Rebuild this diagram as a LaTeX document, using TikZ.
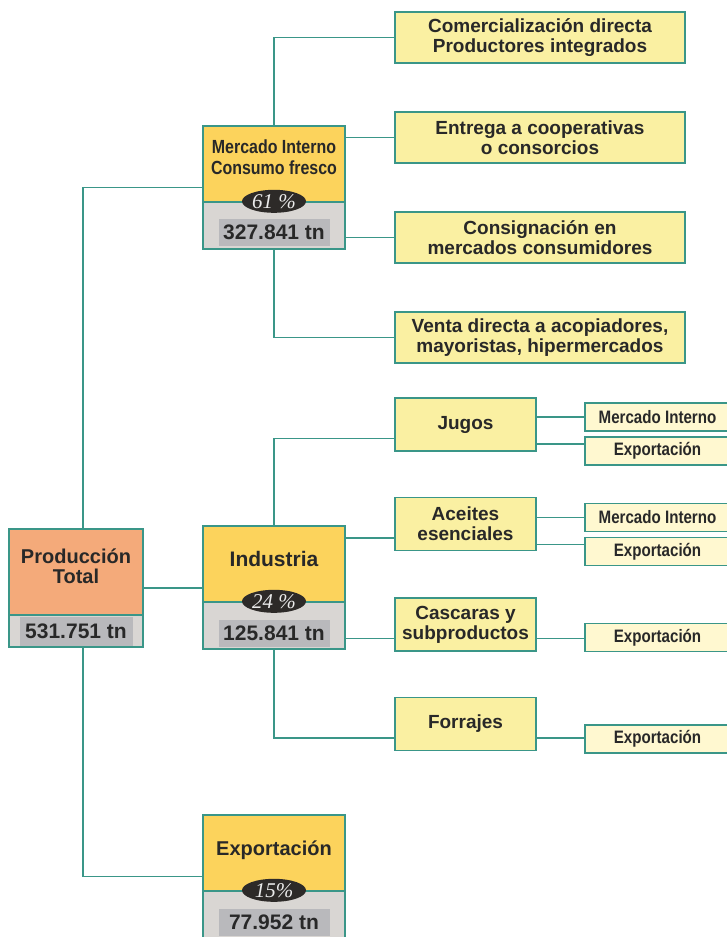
\documentclass[tikz,border=0pt]{standalone}
\usepackage{fontspec}
\setmainfont{Liberation Sans}
\newfontfamily\narrowfont{Liberation Sans}[FakeStretch=0.84]
\newfontfamily\pctfont{Liberation Serif}
\usepackage{tikz}
\usetikzlibrary{positioning}
\usetikzlibrary{calc}
\usetikzlibrary{shapes.geometric}

\definecolor{lineteal}{RGB}{58,150,136}
\definecolor{goldfill}{RGB}{252,211,92}
\definecolor{orangefill}{RGB}{244,170,122}
\definecolor{optfill}{RGB}{250,240,162}
\definecolor{subfill}{RGB}{255,248,208}
\definecolor{graypart}{RGB}{217,214,211}
\definecolor{labelgray}{RGB}{185,185,188}
\definecolor{pctdark}{RGB}{45,42,40}
\definecolor{textdark}{RGB}{40,40,40}

\tikzset{
	link/.style={color=lineteal, line width=1.5pt},
	mainbox/.style 2 args={draw=lineteal, line width=1.4pt, fill=graypart, minimum width=142pt, minimum height=123pt, inner sep=0pt,
		path picture={\fill[#1] (path picture bounding box.north west) rectangle ([yshift=-#2]path picture bounding box.north east);
			\draw[lineteal, line width=1.4pt] ([yshift=-#2]path picture bounding box.north west) -- ([yshift=-#2]path picture bounding box.north east);}},
	maintitle/.style={text=textdark, align=center, inner sep=0pt, font=\bfseries\fontsize{20}{21}\selectfont},
	tonlabel/.style={fill=labelgray, text=textdark, minimum width=111pt, minimum height=27pt, inner sep=0pt, font=\bfseries\fontsize{21}{22}\selectfont},
	pct/.style={ellipse, fill=pctdark, text=white!92!black, minimum width=64pt, minimum height=23pt, inner sep=0pt, font=\pctfont\itshape\fontsize{21}{21}\selectfont},
	optbox/.style={draw=lineteal, line width=1.4pt, fill=optfill, text=textdark, align=center, minimum width=290pt, minimum height=51pt, inner sep=0pt, font=\bfseries\fontsize{19}{20}\selectfont},
	indbox/.style={optbox, minimum width=141pt, minimum height=53pt},
	subbox/.style={draw=lineteal, line width=1.4pt, fill=subfill, text=textdark, minimum width=145pt, minimum height=28pt, inner sep=0pt, font=\narrowfont\bfseries\fontsize{18}{18}\selectfont}
}

\begin{document}
\begin{tikzpicture}[x=1pt,y=-1pt]
	\useasboundingbox (0,0) rectangle (726,937);
	\node[mainbox={orangefill}{86pt}, minimum width=134pt, minimum height=118pt] (prod) at (76,588) {};
	\node[maintitle, font=\bfseries\fontsize{20}{20}\selectfont] (prod-t) at ([yshift=-38pt]prod.north) {Producción\\Total};
	\node[tonlabel, minimum width=113pt, minimum height=29pt] (prod-tn) at ([yshift=16.5pt]prod.south) {531.751 tn};

	\node[mainbox={goldfill}{76pt}] (mi) at (274,187.5) {};
	\node[maintitle, font=\narrowfont\bfseries\fontsize{19}{21}\selectfont] (mi-t) at ([yshift=-32pt]mi.north) {Mercado Interno\\Consumo fresco};
	\node[pct] (mi-p) at ([yshift=-76pt]mi.north) {61 \%};
	\node[tonlabel] (mi-tn) at ([yshift=17pt]mi.south) {327.841 tn};

	\node[mainbox={goldfill}{76pt}] (ind) at (274,587.5) {};
	\node[maintitle, font=\bfseries\fontsize{21}{22}\selectfont] (ind-t) at ([yshift=-34pt]ind.north) {Industria};
	\node[pct] (ind-p) at ([yshift=-76pt]ind.north) {24 \%};
	\node[tonlabel] (ind-tn) at ([yshift=16pt]ind.south) {125.841 tn};

	\node[mainbox={goldfill}{76pt}] (ex) at (274,876.5) {};
	\node[maintitle] (ex-t) at ([yshift=-36pt]ex.north) {Exportación};
	\node[pct] (ex-p) at ([yshift=-76pt]ex.north) {15\%};
	\node[tonlabel] (ex-tn) at ([yshift=16.5pt]ex.south) {77.952 tn};

	\node[optbox] (com) at (540,37.5) {Comercialización directa\\Productores integrados};
	\node[optbox] (ent) at (540,137.5) {Entrega a cooperativas\\o consorcios};
	\node[optbox] (con) at (540,237.5) {Consignación en\\mercados consumidores};
	\node[optbox] (ven) at (540,337.5) {Venta directa a acopiadores,\\mayoristas, hipermercados};

	\node[indbox] (jugos) at (465.5,424.5) {Jugos};
	\node[indbox] (aceites) at (465.5,524) {Aceites\\esenciales};
	\node[indbox] (cascaras) at (465.5,624.5) {Cascaras y\\subproductos};
	\node[indbox] (forrajes) at (465.5,724) {Forrajes};

	\node[subbox] (jug-mi) at (657.5,417) {Mercado Interno};
	\node[subbox] (jug-ex) at (657.5,451) {Exportación};
	\node[subbox] (ace-mi) at (657.5,517.5) {Mercado Interno};
	\node[subbox] (ace-ex) at (657.5,551.5) {Exportación};
	\node[subbox] (cas-ex) at (657.5,637.5) {Exportación};
	\node[subbox] (forr-ex) at (657.5,739) {Exportación};

	\coordinate (jug-in) at ([yshift=-14pt]jugos.west);
	\coordinate (ace-in) at ([yshift=-14pt]aceites.west);
	\coordinate (cas-in) at ([yshift=-14pt]cascaras.west);
	\coordinate (forr-in) at ([yshift=-14pt]forrajes.west);
	\coordinate (jug-out) at ([yshift=7pt]jug-ex.west);
	\coordinate (ace-out) at ([yshift=7pt]ace-ex.west);

	\draw[link] ([xshift=7pt]prod.north) |- (mi.west);
	\draw[link] ([xshift=7pt]prod.south) |- (ex.west);
	\draw[link] (prod.east) -- (prod.east -| ind.west);

	\draw[link] (mi.north) |- (com.west);
	\draw[link] (ent.west) -- (ent.west -| mi.east);
	\draw[link] (con.west) -- (con.west -| mi.east);
	\draw[link] (mi.south) |- (ven.west);

	\draw[link] (ind.north) |- (jug-in);
	\draw[link] (ace-in) -- (ace-in -| ind.east);
	\draw[link] (cas-in) -- (cas-in -| ind.east);
	\draw[link] (ind.south) |- (forr-in);

	\draw[link] (jug-mi.west) -- (jug-mi.west -| jugos.east);
	\draw[link] (jug-out) -- (jug-out -| jugos.east);
	\draw[link] (ace-mi.west) -- (ace-mi.west -| aceites.east);
	\draw[link] (ace-out) -- (ace-out -| aceites.east);
	\draw[link] (cas-in -| cascaras.east) -- (cas-in -| cas-ex.west);
	\draw[link] (forr-in -| forrajes.east) -- (forr-in -| forr-ex.west);
\end{tikzpicture}
\end{document}
